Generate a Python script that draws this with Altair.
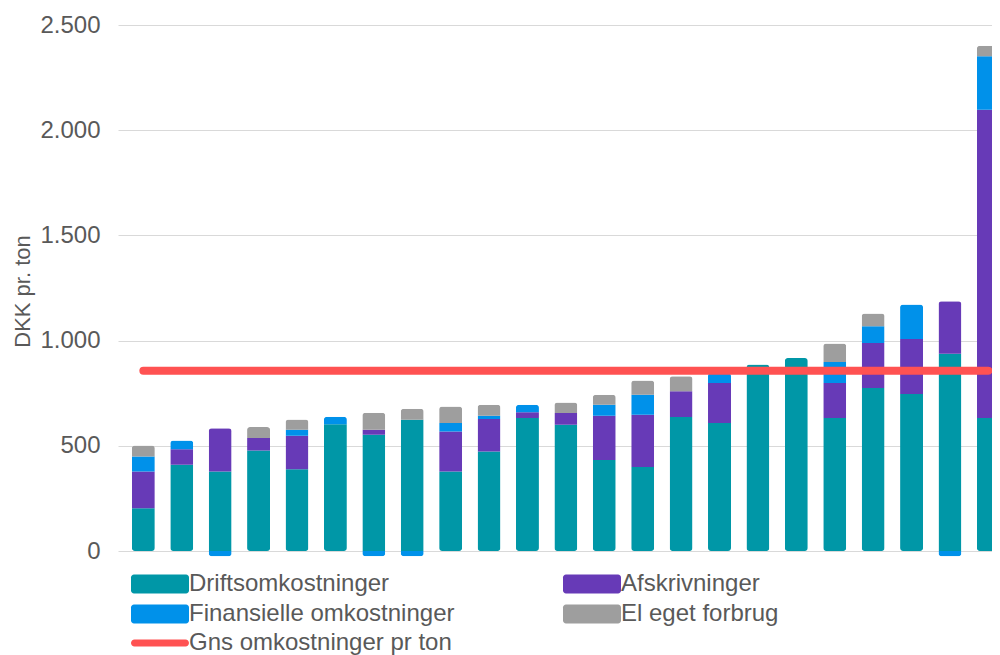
import altair as alt
import pandas as pd

# ---- data ----
anlaeg = list(range(1, 24))
drift = [203, 410, 378, 478, 389, 603, 552, 624, 378, 473, 632, 600, 433, 399, 637, 608, 886, 917, 632, 775, 746, 938, 632]
afskr = [175, 74, 206, 59, 159, 0, 24, 0, 190, 154, 27, 56, 210, 249, 122, 190, 0, 0, 166, 214, 262, 249, 1465]
finans = [71, 41, -25, 0, 28, 35, -25, -25, 40, 16, 36, 0, 52, 95, 0, 48, 0, 0, 100, 79, 163, -25, 254]
el_eget = [52, 0, 0, 52, 49, 0, 81, 52, 79, 52, 0, 50, 48, 67, 71, 0, 0, 0, 88, 61, 0, 0, 50]
gns = [857, 857, 857, 857, 857, 857, 857, 857, 857, 857, 857, 857, 857, 857, 857, 857, 857, 857, 857, 857, 857, 857, 857]

serier = ["Driftsomkostninger", "Afskrivninger", "Finansielle omkostninger", "El eget forbrug"]
farver = ["#0097a7", "#673ab7", "#0091ea", "#9e9e9e"]
# legend entries fill column by column: col 1 = Drifts/Finansielle, col 2 = Afskrivninger/El
legende_orden = ["Driftsomkostninger", "Finansielle omkostninger", "Afskrivninger", "El eget forbrug"]
linje_navn = ["Gns omkostninger pr ton"]
linje_farve = ["#ff5252"]
y_ticks = [0, 500, 1000, 1500, 2000, 2500]

rows = []
for k, (navn, vals) in enumerate(zip(serier, [drift, afskr, finans, el_eget])):
    for a, v in zip(anlaeg, vals):
        rows.append({"anlaeg": a, "serie": navn, "vaerdi": v, "k": k})
df = pd.DataFrame(rows)
df_line = pd.DataFrame({"anlaeg": anlaeg, "gns": gns})
df_leg = pd.DataFrame({"lbl": linje_navn})

FONT = "Liberation Sans"
TXT = "#595959"

x_enc = alt.X("anlaeg:Q", scale=alt.Scale(domain=[0.47, 22.964], nice=False, zero=False), axis=None)
y_scale = alt.Scale(domain=[0, 2500], nice=False)

rect_path = ("M-2.6,-0.95 L2.6,-0.95 A0.3,0.3 0 0 1 2.9,-0.65 L2.9,0.65 A0.3,0.3 0 0 1 2.6,0.95 "
             "L-2.6,0.95 A0.3,0.3 0 0 1 -2.9,0.65 L-2.9,-0.65 A0.3,0.3 0 0 1 -2.6,-0.95 Z")
cap_path = ("M-2.55,-0.35 L2.55,-0.35 A0.35,0.35 0 0 1 2.55,0.35 L-2.55,0.35 "
            "A0.35,0.35 0 0 1 -2.55,-0.35 Z")

leg_common = dict(
    orient="none", title=None, labelFont=FONT, labelFontSize=24, labelColor=TXT,
    labelLimit=0, symbolSize=400, labelOffset=17, symbolStrokeWidth=0, padding=0,
)

bars = alt.Chart(df).mark_bar(size=23, cornerRadius=3).encode(
    x=x_enc,
    y=alt.Y("vaerdi:Q", stack="zero", scale=y_scale, title="DKK pr. ton",
            axis=alt.Axis(values=y_ticks, grid=True, gridColor="#d9d9d9", gridWidth=1,
                          domain=False, ticks=False, labelPadding=18,
                          labelFont=FONT, labelFontSize=24, labelColor=TXT,
                          labelExpr="replace(format(datum.value, ','), ',', '.')",
                          titleFont=FONT, titleFontSize=22, titleColor=TXT,
                          titleFontWeight="normal", titleX=-84, titleY=266)),
    color=alt.Color("serie:N", sort=serier,
                    scale=alt.Scale(domain=serier, range=farver),
                    legend=alt.Legend(columns=2, columnPadding=108, rowPadding=6,
                                      values=legende_orden,
                                      symbolType=rect_path, legendX=30, legendY=547,
                                      **leg_common)),
    order=alt.Order("k:Q"),
)

line = alt.Chart(df_line).mark_line(strokeWidth=8, strokeCap="round", color=linje_farve[0]).encode(
    x=x_enc,
    y=alt.Y("gns:Q", scale=y_scale),
)

leg_dummy = alt.Chart(df_leg).mark_bar().encode(
    x=alt.value(0), x2=alt.value(0), y=alt.value(0), y2=alt.value(0),
    fill=alt.Fill("lbl:N", scale=alt.Scale(domain=linje_navn, range=linje_farve),
                  legend=alt.Legend(symbolType=cap_path, legendX=30, legendY=606, **leg_common)),
)

chart = alt.layer(bars, line, leg_dummy).properties(
    width=874, height=526,
    autosize=alt.AutoSizeParams(type="none"),
    padding={"left": 110, "top": 17, "right": 0, "bottom": 112},
    background="white",
).configure_view(stroke=None)

chart.save("out.html", embed_options={"renderer": "svg", "actions": False})
